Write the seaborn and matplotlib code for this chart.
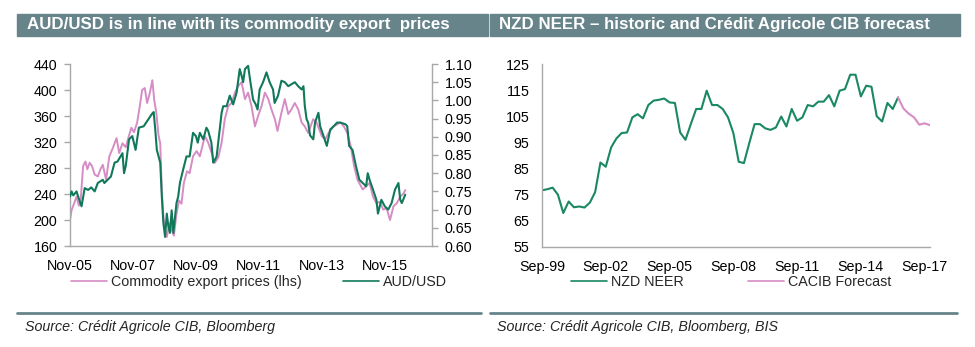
import numpy as np
import pandas as pd
import matplotlib
matplotlib.use("Agg")
import matplotlib.pyplot as plt
import seaborn as sns
from matplotlib.patches import Rectangle
from matplotlib.lines import Line2D
import matplotlib.ticker as mticker

# ---------------- Data ----------------
# Left chart: months since Nov-2005
comm_month = [0, 0.6, 1.6, 2.5, 3.4, 4.1, 5.0, 5.9, 6.6, 7.5, 8.4, 9.4, 10.6, 11.6, 12.5, 13.75,
              15, 16.25, 17.75, 18.75, 20, 21.25, 22.5, 23.4, 24.4, 25.6, 26.6, 27.5, 28.5, 29.4,
              30.4, 31.4, 32.1, 32.9, 33.75, 34.4, 35, 35.6, 36.25, 36.9, 37.9, 38.75, 39.6, 40.6,
              41.6, 42.5, 43.4, 44.6, 45.6, 46.9, 48.25, 49.5, 50.8, 51.4, 52.7, 54, 55.2, 56.5,
              57.8, 59, 60.3, 61.6, 62.9, 64.1, 65.4, 66.7, 67.9, 69.2, 70.5, 71.7, 73, 74.3,
              75.6, 76.8, 78.1, 79.1, 80.6, 81.9, 83.2, 84.4, 85.7, 87, 88.3, 89.5, 90.8, 92.7,
              94, 96, 97.3, 98.6, 100.5, 103.1, 104.4, 105.7, 107, 108.3, 109.6, 111.6, 112.9,
              114.2, 115.5, 116.8, 118.1, 119.4, 120.7, 122, 123.3, 124.6, 125.9, 127.2, 127.8]
comm_value = [200, 215, 226, 236, 222, 232, 283, 290, 278, 288, 283, 270, 267, 278, 285, 262,
              298, 310, 326, 303, 318, 312, 330, 342, 335, 350, 375, 400, 403, 380,
              395, 415, 385, 365, 330, 318, 246, 205, 185, 174, 195, 185, 176, 210,
              230, 225, 257, 275, 272, 298, 306, 298, 319, 329, 319, 303, 288, 296,
              319, 355, 375, 380, 396, 406, 412, 386, 396, 375, 344, 360, 375, 396,
              386, 370, 355, 337, 365, 386, 363, 370, 380, 370, 350, 344, 334, 355,
              350, 329, 324, 334, 344, 350, 344, 334, 314, 283, 262, 247, 252,
              257, 236, 226, 228, 216, 218, 200, 221, 226, 236, 241, 246]

aud_month = [0, 0.6, 1.25, 2.5, 3.1, 4.4, 5.6, 6.9, 8.1, 9.4, 10.6, 12.5, 13.1, 15.6, 17, 18.1,
             20, 20.6, 21.25, 22.5, 23.75, 25, 26.25, 28.1, 29.4, 31.25, 31.9, 32.5, 33.1, 34.4,
             35, 35.6, 36.25, 36.9, 37.5, 38.1, 38.75, 39.4, 40.6, 41.25, 41.9, 43.1, 44.4, 45.6,
             46.9, 48.0, 48.7, 49.5, 50.8, 52, 52.7, 53.9, 54.6, 55.2, 55.9, 56.5, 57.8, 58.4,
             59.7, 60.9, 62.2, 63.5, 64.7, 65.4, 66, 66.7, 67.9, 68.6, 69.8, 70.8, 71.5, 72.3,
             73.6, 74.9, 76.1, 77.4, 78, 79.3, 80.6, 81.9, 83.2, 85.7, 87, 88.3, 89.0, 89.5,
             90.2, 90.8, 91.5, 92.75, 93.4, 94.7, 95.35, 96.65, 97.9, 99.2, 100.5, 101.8, 103.1,
             105.1, 105.7, 106.4, 107.7, 109, 110.3, 111.6, 112.9, 113.5, 114.2, 115.5, 116.8,
             117.4, 118.7, 120, 121.3, 122.6, 123.9, 125.2, 125.9, 126.5, 127.8]
aud_value = [0.736, 0.750, 0.739, 0.750, 0.736, 0.709, 0.759, 0.754, 0.761, 0.750, 0.773, 0.782,
             0.773, 0.791, 0.829, 0.832, 0.855, 0.800, 0.820, 0.893, 0.902, 0.864, 0.925, 0.929,
             0.943, 0.963, 0.968, 0.920, 0.864, 0.829, 0.736, 0.663, 0.625, 0.689, 0.654, 0.636,
             0.698, 0.636, 0.718, 0.736, 0.773, 0.809, 0.846, 0.846, 0.911, 0.902, 0.884, 0.911,
             0.893, 0.925, 0.916, 0.884, 0.829, 0.836, 0.846, 0.884, 0.966, 0.984, 0.984, 1.013,
             0.989, 1.021, 1.086, 1.068, 1.050, 1.086, 1.095, 1.059, 1.002, 0.989, 0.975, 1.030,
             1.050, 1.077, 1.050, 1.030, 0.993, 1.013, 1.054, 1.050, 1.039, 1.050, 1.039, 1.030,
             1.039, 0.985, 0.948, 0.939, 0.904, 0.893, 0.939, 0.966, 0.929, 0.902, 0.875, 0.920,
             0.929, 0.939, 0.939, 0.934, 0.929, 0.875, 0.864, 0.820, 0.782, 0.773, 0.764, 0.800,
             0.782, 0.755, 0.727, 0.689, 0.727, 0.709, 0.700, 0.718, 0.755, 0.773, 0.727, 0.718,
             0.741]

left_ticklabels = ["Nov-05", "Nov-07", "Nov-09", "Nov-11", "Nov-13", "Nov-15"]

# Right chart: quarterly from Sep-1999
neer_value = [76.7, 77.1, 77.7, 75.0, 68.0, 72.4, 70.2, 70.5, 70.1, 72.0, 76.0, 87.3, 85.7, 93.1,
              96.5, 98.6, 98.8, 104.6, 105.8, 104.2, 109.3, 111.0, 111.3, 111.8, 110.3, 110.1,
              98.8, 96.0, 102.0, 107.8, 107.8, 114.8, 109.3, 109.3, 107.8, 104.6, 98.6, 87.6,
              87.1, 94.7, 102.0, 102.0, 100.4, 99.8, 100.7, 104.9, 101.1, 107.8, 103.3, 104.6,
              109.3, 108.8, 110.6, 110.6, 113.1, 108.8, 114.8, 115.4, 120.9, 120.9, 112.6, 116.7,
              116.3, 105.0, 103.0, 110.1, 107.8, 112.2]
forecast_value = [112.2, 108.0, 106.0, 104.6, 101.8, 102.3, 101.6]
right_ticklabels = ["Sep-99", "Sep-02", "Sep-05", "Sep-08", "Sep-11", "Sep-14", "Sep-17"]

# ---------------- Build frames ----------------
base = pd.Timestamp("2005-11-01")
df_comm = pd.DataFrame({"date": base + pd.to_timedelta(np.array(comm_month) * 30.4375, unit="D"),
                        "value": comm_value})
df_aud = pd.DataFrame({"date": base + pd.to_timedelta(np.array(aud_month) * 30.4375, unit="D"),
                       "value": aud_value})
q_dates = pd.date_range("1999-09-30", periods=len(neer_value), freq="QE")
df_neer = pd.DataFrame({"date": q_dates, "value": neer_value})
f_dates = pd.date_range(q_dates[-1], periods=len(forecast_value), freq="QE")
df_fc = pd.DataFrame({"date": f_dates, "value": forecast_value})

# ---------------- Style ----------------
sns.set_style("white")
plt.rcParams["font.family"] = ["Liberation Sans", "DejaVu Sans"]

GREEN = "#11795A"
GREEN2 = "#1A8862"
PINK = "#D68CC4"
BAR = "#68848B"
SPINE = "#A8A8A8"
FS = 10.3

W, H = 975, 347
fig = plt.figure(figsize=(9.75, 3.47), dpi=100)

def fx(px):
    return px / W

def fy(py):
    return 1 - py / H

# Title bars
fig.add_artist(Rectangle((fx(17), fy(36)), fx(488) - fx(17), 22 / H,
                         transform=fig.transFigure, color=BAR, zorder=0))
fig.add_artist(Rectangle((fx(490), fy(36)), fx(960) - fx(490), 22 / H,
                         transform=fig.transFigure, color=BAR, zorder=0))
fig.text(fx(27), fy(25), "AUD/USD is in line with its commodity export  prices",
         color="white", fontweight="bold", fontsize=12.2, va="center", ha="left")
fig.text(fx(499), fy(25), "NZD NEER \u2013 historic and Cr\u00e9dit Agricole CIB forecast",
         color="white", fontweight="bold", fontsize=12.2, va="center", ha="left")

# Separators and sources
fig.add_artist(Line2D([fx(17), fx(481)], [fy(313), fy(313)], color=BAR, lw=2,
                      transform=fig.transFigure))
fig.add_artist(Line2D([fx(490), fx(957)], [fy(313), fy(313)], color=BAR, lw=2,
                      transform=fig.transFigure))
fig.text(fx(25), fy(327), "Source: Cr\u00e9dit Agricole CIB, Bloomberg", style="italic",
         fontsize=10.3, va="center", ha="left")
fig.text(fx(497), fy(327), "Source: Cr\u00e9dit Agricole CIB, Bloomberg, BIS", style="italic",
         fontsize=10.3, va="center", ha="left")

# ---------------- Left chart ----------------
ax = fig.add_axes([fx(70), fy(246), fx(432) - fx(70), (246 - 64) / H])
ax2 = ax.twinx()
sns.lineplot(data=df_comm, x="date", y="value", ax=ax, color=PINK, lw=1.4,
             label="Commodity export prices (lhs)", legend=False)
sns.lineplot(data=df_aud, x="date", y="value", ax=ax2, color=GREEN, lw=1.5,
             label="AUD/USD", legend=False)
ax.set_ylim(160, 440)
ax2.set_ylim(0.60, 1.10)
ax.set_yticks(np.arange(160, 441, 40))
ax2.set_yticks(np.arange(0.60, 1.101, 0.05))
ax2.yaxis.set_major_formatter(mticker.FormatStrFormatter("%.2f"))
xl0 = base
xl1 = base + pd.to_timedelta(138 * 30.4375, unit="D")
ax.set_xlim(xl0, xl1)
lt = [pd.Timestamp(f"{y}-11-01") for y in range(2005, 2016, 2)]
ax.set_xticks(lt)
ax.set_xticklabels(left_ticklabels)
for a in (ax, ax2):
    a.set_xlabel("")
    a.set_ylabel("")
    a.spines["top"].set_visible(False)
    for s in ("left", "right", "bottom"):
        a.spines[s].set_color(SPINE)
        a.spines[s].set_linewidth(1.0)
    a.tick_params(axis="both", length=4, width=1, color=SPINE, direction="out",
                  labelsize=FS, pad=5, labelcolor="black")
ax.spines["right"].set_visible(False)
ax2.spines["left"].set_visible(False)
ax2.spines["bottom"].set_visible(False)

h1 = [Line2D([], [], color=PINK, lw=1.2), Line2D([], [], color=GREEN, lw=1.2)]
ax.legend(h1, ["Commodity export prices (lhs)", "AUD/USD"], loc="center",
          bbox_to_anchor=(fx(259), fy(282)), bbox_transform=fig.transFigure, ncol=2,
          frameon=False, fontsize=FS, handlelength=2.5, handletextpad=0.3, columnspacing=2.9)

# ---------------- Right chart ----------------
bx = fig.add_axes([fx(542), fy(247), fx(930) - fx(542), (247 - 64) / H])
sns.lineplot(data=df_neer, x="date", y="value", ax=bx, color=GREEN2, lw=1.5, legend=False)
sns.lineplot(data=df_fc, x="date", y="value", ax=bx, color=PINK, lw=1.5, legend=False)
bx.set_ylim(55, 125)
bx.set_yticks(np.arange(55, 126, 10))
bx.set_xlim(pd.Timestamp("1999-09-30"), pd.Timestamp("2017-12-31"))
rt = [pd.Timestamp(f"{y}-09-30") for y in range(1999, 2018, 3)]
bx.set_xticks(rt)
bx.set_xticklabels(right_ticklabels)
bx.set_xlabel("")
bx.set_ylabel("")
bx.spines["top"].set_visible(False)
bx.spines["right"].set_visible(False)
for s in ("left", "bottom"):
    bx.spines[s].set_color(SPINE)
    bx.spines[s].set_linewidth(1.0)
bx.tick_params(axis="both", length=4, width=1, color=SPINE, direction="out",
               labelsize=FS, pad=5, labelcolor="black")
h2 = [Line2D([], [], color=GREEN2, lw=1.2), Line2D([], [], color=PINK, lw=1.2)]
bx.legend(h2, ["NZD NEER", "CACIB Forecast"], loc="center",
          bbox_to_anchor=(fx(731), fy(282)), bbox_transform=fig.transFigure, ncol=2,
          frameon=False, fontsize=FS, handlelength=2.5, handletextpad=0.3, columnspacing=4.5)

fig.savefig("out.png", dpi=100)
